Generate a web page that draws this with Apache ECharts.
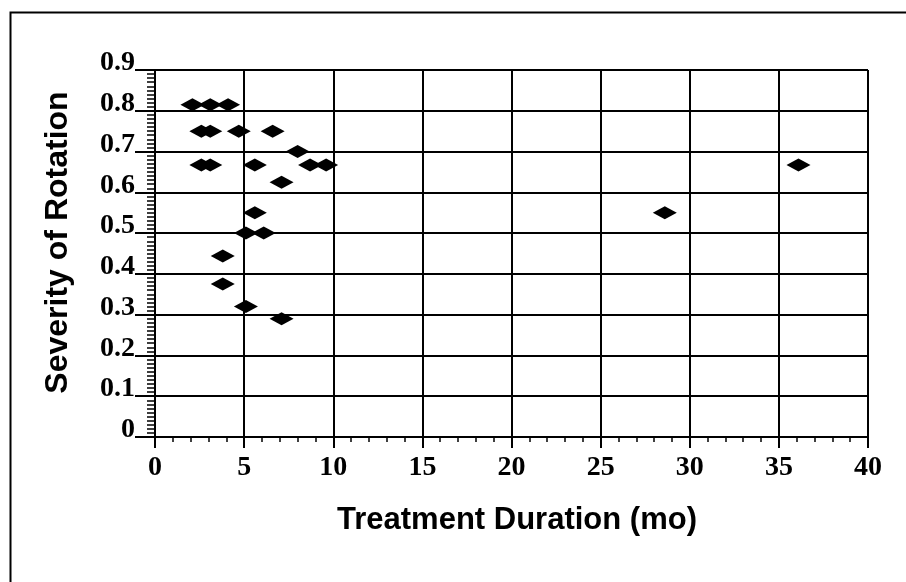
<!DOCTYPE html>
<html>
<head>
<meta charset="utf-8">
<script src="https://cdn.jsdelivr.net/npm/echarts@6/dist/echarts.min.js"></script>
<style>
html,body{margin:0;padding:0;background:#fff;}
#chart{width:906px;height:582px;}
</style>
</head>
<body>
<div id="chart"></div>
<script>
// Data
var durations = [2.1, 3.1, 4.1, 2.6, 3.1, 4.7, 6.6, 8.0, 2.6, 3.1, 5.6, 8.7, 9.6, 7.1, 5.6, 5.1, 6.1, 3.8, 3.8, 5.1, 7.1, 28.6, 36.1];
var severity  = [0.815, 0.815, 0.815, 0.75, 0.75, 0.75, 0.75, 0.70, 0.667, 0.667, 0.667, 0.667, 0.667, 0.625, 0.55, 0.5, 0.5, 0.444, 0.375, 0.32, 0.29, 0.55, 0.667];
var xTitle = 'Treatment Duration (mo)';
var yTitle = 'Severity of Rotation';

var points = durations.map(function (d, i) { return [d, severity[i]]; });

var chart = echarts.init(document.getElementById('chart'), null, {renderer: 'canvas'});
var tickFont = {fontFamily: '"Liberation Serif", "Times New Roman", serif', fontWeight: 'bold', fontSize: 28, color: '#000'};
chart.setOption({
  animation: false,
  backgroundColor: '#fff',
  graphic: [{
    type: 'rect', left: 8, top: 10, silent: true,
    shape: {width: 920, height: 600},
    style: {fill: 'none', stroke: '#000', lineWidth: 2}
  }],
  grid: {left: 155, top: 70, right: 38, bottom: 145, containLabel: false},
  xAxis: {
    type: 'value', min: 0, max: 40, interval: 5,
    name: xTitle, nameLocation: 'middle', nameGap: 83,
    nameTextStyle: {fontFamily: '"Liberation Sans", Arial, sans-serif', fontWeight: 'bold', fontSize: 31, color: '#000', verticalAlign: 'middle', padding: [0, 0, 0, 11]},
    axisLine: {show: true, lineStyle: {color: '#000', width: 2}},
    axisTick: {show: true, inside: false, length: 11, lineStyle: {color: '#000', width: 2}},
    minorTick: {show: true, splitNumber: 5, length: 5, lineStyle: {color: '#000', width: 1.5}},
    splitLine: {show: true, lineStyle: {color: '#000', width: 2}},
    axisLabel: Object.assign({margin: 17}, tickFont)
  },
  yAxis: {
    type: 'value', min: 0, max: 0.9, interval: 0.1,
    name: yTitle, nameLocation: 'middle', nameGap: 97, nameRotate: 90,
    nameTextStyle: {fontFamily: '"Liberation Sans", Arial, sans-serif', fontWeight: 'bold', fontSize: 32, color: '#000', verticalAlign: 'middle', padding: [0, 0, 0, 22]},
    axisLine: {show: true, onZero: false, lineStyle: {color: '#000', width: 2}},
    axisTick: {show: true, inside: false, length: 20, lineStyle: {color: '#000', width: 2}},
    minorTick: {show: true, splitNumber: 10, length: 8, lineStyle: {color: '#000', width: 1.5}},
    splitLine: {show: true, lineStyle: {color: '#000', width: 2}},
    axisLabel: Object.assign({margin: 20, verticalAlign: 'bottom', lineHeight: 14}, tickFont)
  },
  series: [{
    type: 'scatter',
    symbol: 'diamond',
    symbolSize: [24, 13],
    itemStyle: {color: '#000', opacity: 1},
    data: points
  }]
});
</script>
</body>
</html>
